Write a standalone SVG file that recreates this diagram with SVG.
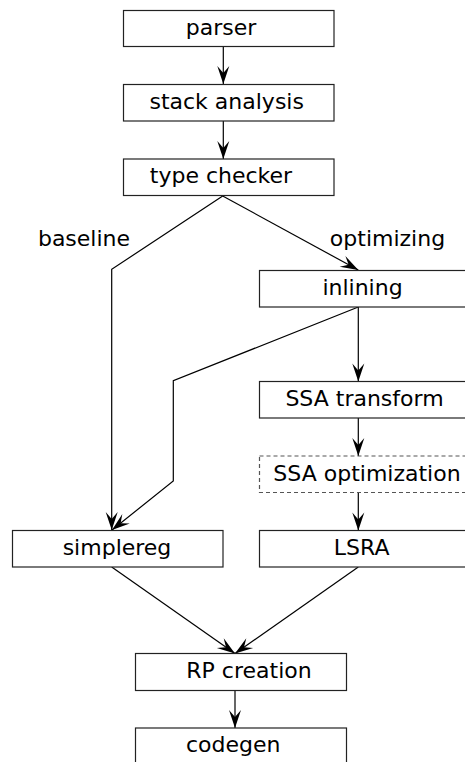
<svg xmlns="http://www.w3.org/2000/svg" width="465" height="762" viewBox="0 0 465 762">
<style>
.box{fill:#fff;stroke:#222;stroke-width:1.2}
.dash{fill:#fff;stroke:#555;stroke-width:1.2;stroke-dasharray:4,3}
.lbl{font-family:"DejaVu Sans",sans-serif;font-size:22px;fill:#000;text-anchor:middle}
.edge{fill:none;stroke:#000;stroke-width:1.2;marker-end:url(#arr)}
</style>
<defs>
<marker id="arr" markerUnits="userSpaceOnUse" viewBox="-19 -7 20 14" refX="0" refY="0" markerWidth="20" markerHeight="14" orient="auto">
<path d="M0,0 L-18,-6 L-11,0 L-18,6 Z" fill="#000"/>
</marker>
</defs>
<g id="connectors">
<path class="edge" d="M223.3,47 L223.3,84"/>
<path class="edge" d="M223.3,121 L223.3,159"/>
<path class="edge" d="M222.7,196 L111.7,269.3 L111.7,530"/>
<path class="edge" d="M222.7,196 L358.3,270"/>
<path class="edge" d="M358.3,307 L358.3,381.5"/>
<path class="edge" d="M358.3,307 L173.3,380.7 L173.3,481 L112,530"/>
<path class="edge" d="M358.3,418 L358.3,456"/>
<path class="edge" d="M358.3,492.5 L358.3,530.5"/>
<path class="edge" d="M111.7,567 L235,653.5"/>
<path class="edge" d="M358.3,567 L235,653.5"/>
<path class="edge" d="M235,690.5 L235,728"/>
</g>
<g id="label-baseline"><text class="lbl" x="84" y="245.5">baseline</text></g>
<g id="label-optimizing"><text class="lbl" x="387.5" y="245.5">optimizing</text></g>
<g id="parser"><rect class="box" x="123.5" y="10.5" width="210.5" height="36"/><text class="lbl" x="221" y="35">parser</text></g>
<g id="stack-analysis"><rect class="box" x="123.5" y="84.5" width="210.5" height="36.5"/><text class="lbl" x="226.7" y="109.3">stack analysis</text></g>
<g id="type-checker"><rect class="box" x="123.5" y="159" width="210.5" height="36.5"/><text class="lbl" x="221" y="183.3">type checker</text></g>
<g id="inlining"><rect class="box" x="259.5" y="270.5" width="211" height="36.5"/><text class="lbl" x="362.5" y="295">inlining</text></g>
<g id="ssa-transform"><rect class="box" x="259.5" y="381.5" width="211" height="36.5"/><text class="lbl" x="364.5" y="406">SSA transform</text></g>
<g id="ssa-optimization"><rect class="dash" x="259.5" y="456" width="211" height="36.5"/><text class="lbl" x="367" y="481">SSA optimization</text></g>
<g id="simplereg"><rect class="box" x="12.5" y="530.5" width="210.5" height="36.5"/><text class="lbl" x="117" y="555">simplereg</text></g>
<g id="lsra"><rect class="box" x="259.5" y="530.5" width="211" height="36.5"/><text class="lbl" x="361.7" y="555">LSRA</text></g>
<g id="rp-creation"><rect class="box" x="135.5" y="653.5" width="211" height="37"/><text class="lbl" x="249" y="678.3">RP creation</text></g>
<g id="codegen"><rect class="box" x="135.5" y="728" width="211" height="40"/><text class="lbl" x="233.2" y="752.3">codegen</text></g>
</svg>
